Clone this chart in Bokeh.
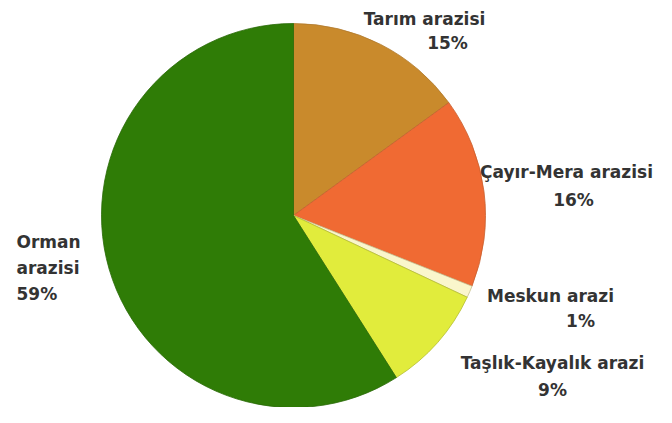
import math
from bokeh.plotting import figure
from bokeh.models import ColumnDataSource, Range1d
from bokeh.core.properties import value
from bokeh.embed import file_html
from bokeh.resources import INLINE

categories = ["Tarım arazisi", "Çayır-Mera arazisi", "Meskun arazi", "Taşlık-Kayalık arazi", "Orman arazisi"]
percents = [15, 16, 1, 9, 59]
colors = ["#C98A2C", "#F06A33", "#FAF6CC", "#E1EC3C", "#2F7C06"]
edge_colors = ["#B07A2E", "#C8602E", "#C8C090", "#B5BE30", "#2A6A08"]

W, H = 656, 407
p = figure(width=W, height=H, output_backend="svg", toolbar_location=None,
           x_range=Range1d(0, W), y_range=Range1d(0, H), min_border=0)
p.axis.visible = False
p.grid.visible = False
p.outline_line_color = None
p.background_fill_color = "white"
p.border_fill_color = "white"

# wedges, clockwise from 12 o'clock
total = sum(percents)
starts, ends = [], []
a = math.pi / 2
for v in percents:
    b = a - 2 * math.pi * v / total
    starts.append(b)
    ends.append(a)
    a = b

cx, cy_top, r = 293, 215, 192
src = ColumnDataSource(dict(start=starts, end=ends, color=colors, edge=edge_colors))
p.wedge(x=cx, y=H - cy_top, radius=r, start_angle="start", end_angle="end",
        fill_color="color", line_color="edge", line_width=0.8, source=src)

# label layout: (center x, baseline y of name, center x, baseline y of percent), from top-left
label_pos = [
    (424, 18, 447, 42),
    (566, 171, 573, 199),
    (550, 295, 580, 320),
    (552, 362, 552, 389),
]
tx, ty, tt = [], [], []
for (x1, y1, x2, y2), cat, pct in zip(label_pos, categories[:4], percents[:4]):
    tt += [cat, f"{pct}%"]
    tx += [x1, x2]
    ty += [H - y1, H - y2]
p.text(x=tx, y=ty, text=tt, text_align="center", text_baseline="alphabetic",
       text_font=value("DejaVu Sans"), text_font_style="bold",
       text_font_size="17px", text_color="#333333")

orman = categories[4].split(" ") + [f"{percents[4]}%"]
p.text(x=[16, 16, 16], y=[H - 241, H - 267, H - 293], text=orman,
       text_align="left", text_baseline="alphabetic",
       text_font=value("DejaVu Sans"), text_font_style="bold",
       text_font_size="17px", text_color="#333333")

open("out.html", "w").write(file_html(p, INLINE))
